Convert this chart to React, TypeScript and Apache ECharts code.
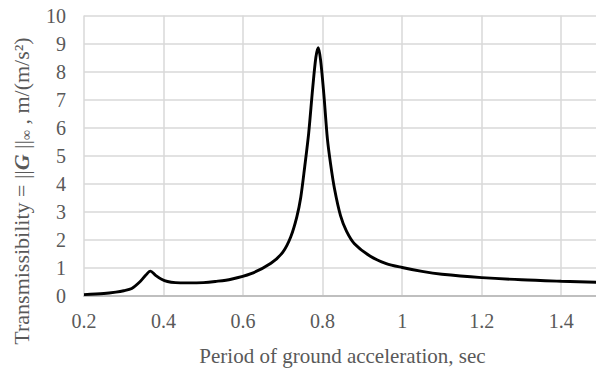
import React, { useEffect, useRef } from "react";
import * as echarts from "echarts";

const periods = [
  0.2, 0.25, 0.28, 0.3, 0.32, 0.34, 0.355, 0.367, 0.38, 0.395, 0.41, 0.43,
  0.46, 0.5, 0.53, 0.57, 0.62, 0.67, 0.7, 0.72, 0.735, 0.745, 0.755, 0.765,
  0.775, 0.783, 0.789, 0.795, 0.803, 0.812, 0.82, 0.83, 0.845, 0.86, 0.88,
  0.92, 0.96, 1.0, 1.05, 1.1, 1.2, 1.3, 1.4, 1.5,
];
const transmissibility = [
  0.03, 0.07, 0.12, 0.17, 0.25, 0.48, 0.72, 0.87, 0.72, 0.58, 0.5, 0.46,
  0.45, 0.46, 0.5, 0.58, 0.78, 1.15, 1.55, 2.1, 2.8, 3.5, 4.6, 5.8,
  7.4, 8.5, 8.85, 8.4, 7.2, 5.6, 4.7, 3.8, 2.85, 2.3, 1.85,
  1.4, 1.14, 1.0, 0.86, 0.76, 0.64, 0.56, 0.51, 0.47,
];

const xTitle = "Period of ground acceleration, sec";
const yTitleParts = ["Transmissibility = ||", "G", " ||", "\u221e", " , m/(m/s\u00b2)"];

const FONT = "'Liberation Serif', 'Times New Roman', serif";
const GREY = "#595959";

export default function App() {
  const ref = useRef<HTMLDivElement>(null);
  useEffect(() => {
    document.body.style.margin = "0";
    const chart = echarts.init(ref.current!, null, { renderer: "svg" });
    const data = periods.map((p, i) => [p, transmissibility[i]]);
    chart.setOption({
      animation: false,
      backgroundColor: "#ffffff",
      grid: {
        left: 84,
        top: 15.5,
        width: 517,
        bottom: 72.5,
        containLabel: false,
        outerBoundsMode: "none",
      },
      xAxis: {
        type: "value",
        min: 0.2,
        max: 1.5,
        interval: 0.2,
        name: xTitle,
        nameLocation: "middle",
        nameGap: 50,
        nameTextStyle: { fontFamily: FONT, fontSize: 21, color: GREY },
        axisLine: { show: true, lineStyle: { color: "#bfbfbf", width: 2 } },
        axisTick: { show: false },
        axisLabel: { fontFamily: FONT, fontSize: 20, color: GREY, margin: 15, showMaxLabel: false },
        splitLine: { show: true, lineStyle: { color: "#d9d9d9", width: 1.5 } },
      },
      yAxis: {
        type: "value",
        min: 0,
        max: 10,
        interval: 1,
        axisLine: { show: false },
        axisTick: { show: false },
        axisLabel: { fontFamily: FONT, fontSize: 20, color: GREY, margin: 18 },
        splitLine: { show: true, lineStyle: { color: "#d9d9d9", width: 1.5 } },
      },
      graphic: [
        {
          type: "text",
          x: 21,
          y: 191,
          rotation: Math.PI / 2,
          style: {
            text:
              "{a|" + yTitleParts[0] + "}{g|" + yTitleParts[1] + "}{a|" + yTitleParts[2] +
              "}{s|" + yTitleParts[3] + "}{a|" + yTitleParts[4] + "}",
            align: "center",
            verticalAlign: "middle",
            rich: {
              a: { fontFamily: FONT, fontSize: 22, fill: GREY, lineHeight: 25 },
              g: { fontFamily: FONT, fontSize: 22, fill: GREY, fontWeight: "bold", fontStyle: "italic", lineHeight: 25 },
              s: { fontFamily: FONT, fontSize: 14, fill: GREY, lineHeight: 25, verticalAlign: "bottom", padding: [6, 0, 0, 0] },
            },
          },
        },
      ],
      series: [
        {
          type: "line",
          data,
          showSymbol: false,
          smooth: 0.3,
          lineStyle: { color: "#000000", width: 2.9 },
        },
      ],
    });
    return () => chart.dispose();
  }, []);
  return <div ref={ref} style={{ width: 596, height: 368 }} />;
}
